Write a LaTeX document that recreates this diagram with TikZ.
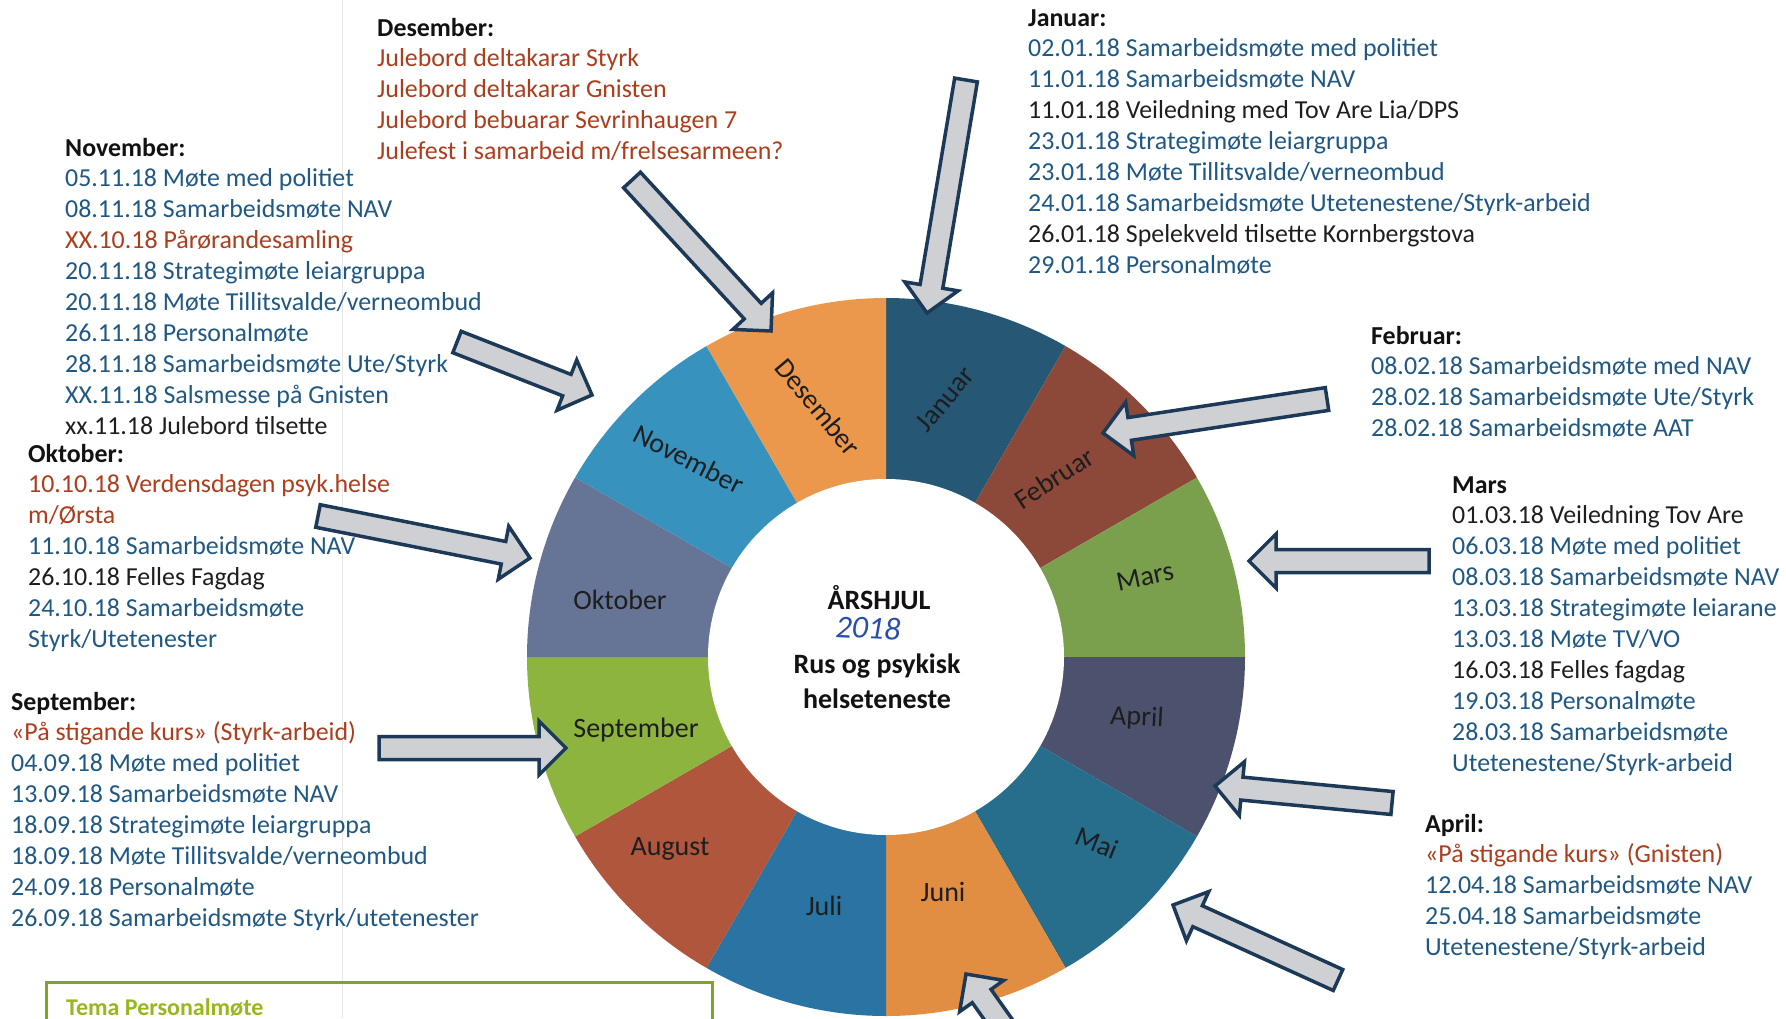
\documentclass[tikz,border=0pt]{standalone}
\usepackage{fontspec}
\setmainfont{Carlito}
\usetikzlibrary{calc}
\definecolor{bl}{RGB}{32,88,132}
\definecolor{rd}{RGB}{172,62,30}
\definecolor{bk}{RGB}{30,30,30}
\definecolor{hd}{RGB}{18,18,18}
\definecolor{arrfill}{RGB}{206,208,212}
\definecolor{arrline}{RGB}{28,58,88}
\definecolor{cJan}{RGB}{38,88,118}
\definecolor{cFeb}{RGB}{140,72,56}
\definecolor{cMar}{RGB}{122,160,78}
\definecolor{cApr}{RGB}{76,82,110}
\definecolor{cMai}{RGB}{38,110,140}
\definecolor{cJun}{RGB}{226,142,66}
\definecolor{cJul}{RGB}{42,116,164}
\definecolor{cAug}{RGB}{176,86,60}
\definecolor{cSep}{RGB}{140,180,62}
\definecolor{cOkt}{RGB}{102,116,150}
\definecolor{cNov}{RGB}{56,146,190}
\definecolor{cDes}{RGB}{236,152,76}
\definecolor{temagreen}{RGB}{150,184,28}
\definecolor{temaline}{RGB}{128,164,40}
\definecolor{hand}{RGB}{40,80,170}
\tikzset{
  txtline/.style={anchor=base west, inner sep=0pt, font=\fontsize{25.9}{30.9}\selectfont},
  monthlbl/.style={inner sep=0pt, text=bk, font=\fontsize{28}{32}\selectfont},
  centertxt/.style={inner sep=0pt, text=hd, font=\fontsize{28}{32}\selectfont\bfseries},
  blockarr/.style={draw=arrline, fill=arrfill, line width=3.5pt, line join=miter},
  temabox/.style={draw=temaline, line width=3pt}
}
\newcommand\textblock[4]{%
  \foreach \c/\t [count=\i from 0] in {#4}{%
    \node[txtline, text=\c] (#1-\i) at (#2, #3+30.9*\i) {\t};
  }}
\newcommand\blockarrow[2]{%
  \coordinate (#2n) at ($(#2)!27pt!(#1)$);
  \path[blockarr] ($(#1)!11.5pt!90:(#2)$) -- ($(#2n)!11.5pt!90:(#2)$) -- ($(#2n)!27pt!90:(#2)$)
    -- (#2) -- ($(#2n)!27pt!-90:(#2)$) -- ($(#2n)!11.5pt!-90:(#2)$) -- ($(#1)!11.5pt!-90:(#2)$) -- cycle;
}
\begin{document}
\begin{tikzpicture}[x=1pt, y=-1pt]
\useasboundingbox (0,0) rectangle (1786,1018);
\clip (0,0) rectangle (1786,1018);
\fill[white] (0,0) rectangle (1786,1018);
% faint scan line
\draw[gray!18, line width=1pt] (342,0) -- (342,1018);

% wheel
\begin{scope}[shift={(886,657)}, x=1pt, y=1pt]
  \foreach \col [count=\k from 0] in {cJan,cFeb,cMar,cApr,cMai,cJun,cJul,cAug,cSep,cOkt,cNov,cDes}{%
    \pgfmathsetmacro\aone{90-30*\k}
    \pgfmathsetmacro\atwo{60-30*\k}
    \fill[\col] (0,0) -- (\aone:359pt) arc[start angle=\aone, end angle=\atwo, radius=359pt] -- cycle;
  }
  \fill[white] (0,0) circle[radius=178pt];
\end{scope}

% month labels
\node[monthlbl, rotate=50] (lJan) at (945,399) {Januar};
\node[monthlbl, rotate=33] (lFeb) at (1054,478) {Februar};
\node[monthlbl, rotate=12] (lMar) at (1145,577) {Mars};
\node[monthlbl, rotate=-3] (lApr) at (1137,718) {April};
\node[monthlbl, rotate=-22] (lMai) at (1097,843) {Mai};
\node[monthlbl] (lJun) at (943,892) {Juni};
\node[monthlbl] (lJul) at (824,906) {Juli};
\node[monthlbl] (lAug) at (670,849) {August};
\node[monthlbl] (lSep) at (636,730) {September};
\node[monthlbl] (lOkt) at (620,600) {Oktober};
\node[monthlbl, rotate=-27] (lNov) at (689,459) {November};
\node[monthlbl, rotate=-50] (lDes) at (818,407) {Desember};

% center
\node[centertxt] (title) at (879,598) {ÅRSHJUL};
\node[inner sep=0pt, text=hand, font=\fontsize{32}{34}\selectfont\itshape, rotate=-3] (year) at (868,628) {2018};
\node[centertxt] (sub1) at (877,666) {Rus og psykisk};
\node[centertxt] (sub2) at (877,699) {helseteneste};

% text blocks
\textblock{des}{377}{36}{hd/{\bfseries Desember:},
  rd/{Julebord deltakarar Styrk},
  rd/{Julebord deltakarar Gnisten},
  rd/{Julebord bebuarar Sevrinhaugen 7},
  rd/{Julefest i samarbeid m/frelsesarmeen?}}
\textblock{jan}{1028}{26}{hd/{\bfseries Januar:},
  bl/{02.01.18 Samarbeidsmøte med politiet},
  bl/{11.01.18 Samarbeidsmøte NAV},
  bk/{11.01.18 Veiledning med Tov Are Lia/DPS},
  bl/{23.01.18 Strategimøte leiargruppa},
  bl/{23.01.18 Møte Tillitsvalde/verneombud},
  bl/{24.01.18 Samarbeidsmøte Utetenestene/Styrk-arbeid},
  bk/{26.01.18 Spelekveld tilsette Kornbergstova},
  bl/{29.01.18 Personalmøte}}
\textblock{nov}{65}{156}{hd/{\bfseries November:},
  bl/{05.11.18 Møte med politiet},
  bl/{08.11.18 Samarbeidsmøte NAV},
  rd/{XX.10.18 Pårørandesamling},
  bl/{20.11.18 Strategimøte leiargruppa},
  bl/{20.11.18 Møte Tillitsvalde/verneombud},
  bl/{26.11.18 Personalmøte},
  bl/{28.11.18 Samarbeidsmøte Ute/Styrk},
  bl/{XX.11.18 Salsmesse på Gnisten},
  bk/{xx.11.18 Julebord tilsette}}
\textblock{okt}{28}{462}{hd/{\bfseries Oktober:},
  rd/{10.10.18 Verdensdagen psyk.helse},
  rd/{m/Ørsta},
  bl/{11.10.18 Samarbeidsmøte NAV},
  bk/{26.10.18 Felles Fagdag},
  bl/{24.10.18 Samarbeidsmøte},
  bl/{Styrk/Utetenester}}
\textblock{sep}{11}{710}{hd/{\bfseries September:},
  rd/{«På stigande kurs» (Styrk-arbeid)},
  bl/{04.09.18 Møte med politiet},
  bl/{13.09.18 Samarbeidsmøte NAV},
  bl/{18.09.18 Strategimøte leiargruppa},
  bl/{18.09.18 Møte Tillitsvalde/verneombud},
  bl/{24.09.18 Personalmøte},
  bl/{26.09.18 Samarbeidsmøte Styrk/utetenester}}
\textblock{feb}{1371}{344}{hd/{\bfseries Februar:},
  bl/{08.02.18 Samarbeidsmøte med NAV},
  bl/{28.02.18 Samarbeidsmøte Ute/Styrk},
  bl/{28.02.18 Samarbeidsmøte AAT}}
\textblock{mar}{1452}{493}{hd/{\bfseries Mars},
  bk/{01.03.18 Veiledning Tov Are},
  bl/{06.03.18 Møte med politiet},
  bl/{08.03.18 Samarbeidsmøte NAV},
  bl/{13.03.18 Strategimøte leiarane},
  bl/{13.03.18 Møte TV/VO},
  bk/{16.03.18 Felles fagdag},
  bl/{19.03.18 Personalmøte},
  bl/{28.03.18 Samarbeidsmøte},
  bl/{Utetenestene/Styrk-arbeid}}
\textblock{apr}{1425}{832}{hd/{\bfseries April:},
  rd/{«På stigande kurs» (Gnisten)},
  bl/{12.04.18 Samarbeidsmøte NAV},
  bl/{25.04.18 Samarbeidsmøte},
  bl/{Utetenestene/Styrk-arbeid}}

% arrows
\coordinate (janA) at (966,80);   \coordinate (janB) at (927,313);
\coordinate (desA) at (632,180);  \coordinate (desB) at (771,331);
\coordinate (novA) at (457,342);  \coordinate (novB) at (592,395);
\coordinate (oktA) at (318,516);  \coordinate (oktB) at (530,558);
\coordinate (sepA) at (379,748);  \coordinate (sepB) at (566,748);
\coordinate (febA) at (1327,399); \coordinate (febB) at (1103,433);
\coordinate (marA) at (1429,561); \coordinate (marB) at (1249,561);
\coordinate (aprA) at (1392,803); \coordinate (aprB) at (1215,786);
\coordinate (maiA) at (1338,980); \coordinate (maiB) at (1173,905);
\coordinate (junA) at (1020,1050); \coordinate (junB) at (966,974);
\blockarrow{janA}{janB}
\blockarrow{desA}{desB}
\blockarrow{novA}{novB}
\blockarrow{oktA}{oktB}
\blockarrow{sepA}{sepB}
\blockarrow{febA}{febB}
\blockarrow{marA}{marB}
\blockarrow{aprA}{aprB}
\blockarrow{maiA}{maiB}
\blockarrow{junA}{junB}

% Tema box
\draw[temabox] (46,982) rectangle (712,1045);
\node[txtline, text=temagreen, font=\fontsize{24}{28}\selectfont\bfseries] (tema) at (66,1015) {Tema Personalmøte};
\end{tikzpicture}
\end{document}
